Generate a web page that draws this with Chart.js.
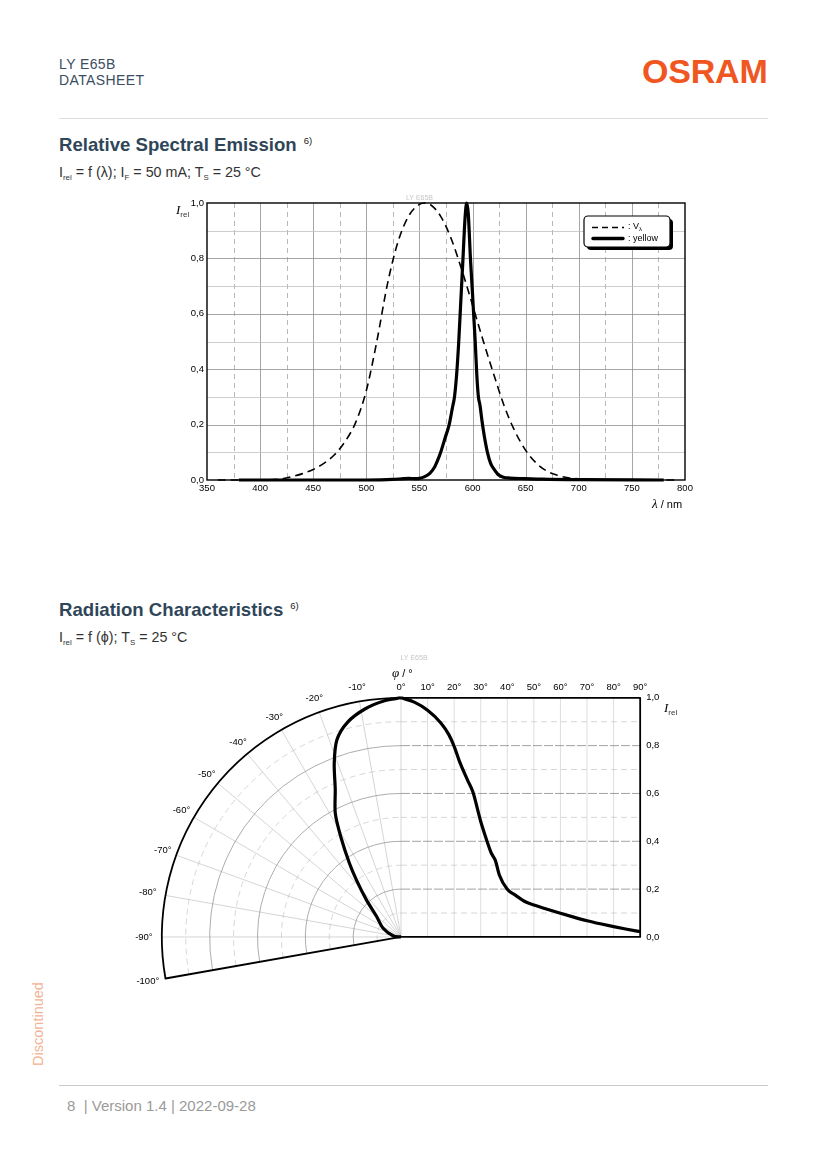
<!DOCTYPE html>
<html>
<head>
<meta charset="utf-8">
<script src="https://cdn.jsdelivr.net/npm/chart.js@4.4.0/dist/chart.umd.min.js"></script>
<style>
  body { margin: 0; background: #fff; font-family: "Liberation Sans", Arial, sans-serif; }
  #page { position: relative; width: 827px; height: 1170px; overflow: hidden; background: #fff; }
  .abs { position: absolute; white-space: nowrap; line-height: 1; }
  .hdr { color: #3b4d5f; font-size: 14px; left: 59px; letter-spacing: 0.4px; }
  .logo { left: 642px; top: 54px; font-size: 34px; font-weight: bold; color: #f0561f; letter-spacing: -0.2px; }
  .rule { position: absolute; left: 59px; width: 709px; height: 1px; }
  .title { left: 59px; font-size: 18.6px; font-weight: bold; color: #2f4659; }
  .title sup { font-size: 9.5px; font-weight: normal; color: #222; vertical-align: 0.7em; margin-left: 7px; }
  .sub { left: 59px; font-size: 14.3px; color: #333; }
  .sub sub, .axt sub { font-size: 0.55em; vertical-align: -0.35em; color: #333; }
  .axt { font-size: 11px; color: #000; }
  .axt i { font-family: "Liberation Serif", serif; font-size: 13px; }
  canvas { position: absolute; }
</style>
</head>
<body>
<div id="page">
  <div class="abs hdr" style="top:57px">LY E65B</div>
  <div class="abs hdr" style="top:73px">DATASHEET</div>
  <div class="abs logo">OSRAM</div>
  <div class="rule" style="top:118px;background:#dedede"></div>

  <div class="abs title" style="top:136px">Relative Spectral Emission<sup>6)</sup></div>
  <div class="abs sub" style="top:165px">I<sub>rel</sub> = f (λ); I<sub>F</sub> = 50 mA; T<sub>S</sub> = 25 °C</div>

  <canvas id="spectrum" width="540" height="330" style="left:160px;top:185px"></canvas>
  <div class="abs axt" style="left:176px;top:203px"><i>I</i><sub style="font-size:8px">rel</sub></div>
  <div class="abs axt" style="left:652px;top:497px"><i>λ</i> / nm</div>

  <div class="abs title" style="top:601px">Radiation Characteristics<sup>6)</sup></div>
  <div class="abs sub" style="top:630px">I<sub>rel</sub> = f (ϕ); T<sub>S</sub> = 25 °C</div>

  <canvas id="radiation" width="574" height="370" style="left:114px;top:638px"></canvas>
  <div class="abs axt" style="left:392px;top:666px"><i>φ</i> / °</div>
  <div class="abs axt" style="left:664px;top:701px"><i>I</i><sub style="font-size:8px">rel</sub></div>

  <div class="abs" style="left:38px;top:1024px;transform:translate(-50%,-50%) rotate(-90deg);font-size:14.5px;color:#f2b396">Discontinued</div>
  <div class="rule" style="top:1085px;background:#c9c9c9"></div>
  <div class="abs" style="left:67px;top:1098px;font-size:15px;color:#9a9a9a">8&nbsp; | Version 1.4 | 2022-09-28</div>
</div>

<script>
// Relative spectral emission: eye sensitivity V(lambda) and the yellow LED
const vLambdaWl = [360, 380, 400, 420, 430, 440, 450, 460, 470, 480, 490, 500, 510, 520, 530, 540, 550, 555, 560, 570, 580, 590, 600, 610, 620, 630, 640, 650, 660, 670, 680, 690, 700, 720, 750, 790];
const vLambdaVal = [0, 0.0001, 0.0004, 0.004, 0.012, 0.023, 0.038, 0.06, 0.091, 0.139, 0.208, 0.323, 0.503, 0.71, 0.862, 0.954, 0.995, 1.0, 0.995, 0.952, 0.87, 0.757, 0.631, 0.503, 0.381, 0.265, 0.175, 0.107, 0.061, 0.032, 0.017, 0.008, 0.004, 0.001, 0, 0];

const yellowWl = [380, 450, 500, 525, 535, 540, 545, 550, 555, 560, 564, 567, 570, 574, 578, 581, 583, 585, 587, 589, 591, 593, 594.5, 596, 598, 600, 601, 602.5, 604, 605.5, 607, 609, 611, 614, 617, 620, 624, 629, 635, 650, 665, 700, 780];
const yellowVal = [0, 0, 0, 0.002, 0.005, 0.006, 0.005, 0.006, 0.012, 0.025, 0.045, 0.07, 0.1, 0.15, 0.2, 0.26, 0.3, 0.38, 0.5, 0.65, 0.8, 0.95, 1.0, 0.96, 0.8, 0.67, 0.6, 0.5, 0.38, 0.3, 0.27, 0.21, 0.16, 0.1, 0.06, 0.04, 0.02, 0.01, 0.007, 0.005, 0.003, 0.001, 0];

const wlTicks = [350, 400, 450, 500, 550, 600, 650, 700, 750, 800];
const irelTicks = [0, 0.2, 0.4, 0.6, 0.8, 1.0];

// Radiation characteristic: right half (cartesian) and left half (polar)
const angleDeg = [0, 5, 10, 15, 18, 20, 22, 25, 27, 30, 32, 34, 35.5, 37, 40, 43, 47, 50, 55, 60, 65, 70, 75, 80, 85, 90];
const irelAngle = [1.0, 0.982, 0.948, 0.895, 0.846, 0.797, 0.734, 0.657, 0.608, 0.483, 0.413, 0.35, 0.32, 0.259, 0.199, 0.175, 0.146, 0.134, 0.116, 0.099, 0.083, 0.068, 0.055, 0.043, 0.032, 0.022];

const leftAngleDeg = [0, -4, -9, -14, -18, -21, -24, -28, -31, -35, -38, -43, -50, -64, -83, -90];
const leftIrel = [1.0, 0.99, 0.965, 0.925, 0.867, 0.779, 0.676, 0.585, 0.489, 0.376, 0.303, 0.212, 0.133, 0.083, 0.032, 0];

const polarAngleLabels = [-10, -20, -30, -40, -50, -60, -70, -80, -90, -100];
const topAngleLabels = [0, 10, 20, 30, 40, 50, 60, 70, 80, 90];
const ringValues = [0.1, 0.2, 0.3, 0.4, 0.5, 0.6, 0.7, 0.8, 0.9];

const fmt = v => v.toFixed(1).replace('.', ',');
const sans = '"Liberation Sans", Arial, sans-serif';

// Spectrum grid, frame and legend
const spectrumDecor = {
  id: 'spectrumDecor',
  beforeDatasetsDraw(chart) {
    const { ctx, chartArea: a, scales: { x, y } } = chart;
    ctx.save();
    ctx.lineWidth = 0.8;
    for (let w = 375; w < 800; w += 25) {
      const px = Math.round(x.getPixelForValue(w)) + 0.5;
      const major = w % 50 === 0;
      ctx.strokeStyle = major ? '#8f8f8f' : '#a6a6a6';
      ctx.setLineDash(major ? [] : [5, 4]);
      ctx.beginPath(); ctx.moveTo(px, a.top); ctx.lineTo(px, a.bottom); ctx.stroke();
    }
    ctx.setLineDash([]);
    for (let i = 1; i < 10; i++) {
      const py = Math.round(y.getPixelForValue(i / 10)) + 0.5;
      ctx.strokeStyle = i % 2 === 0 ? '#8f8f8f' : '#c2c2c2';
      ctx.beginPath(); ctx.moveTo(a.left, py); ctx.lineTo(a.right, py); ctx.stroke();
    }
    ctx.strokeStyle = '#000';
    ctx.lineWidth = 1.4;
    ctx.strokeRect(a.left, a.top, a.right - a.left, a.bottom - a.top);
    ctx.fillStyle = '#c6c6c6';
    ctx.font = '7px ' + sans;
    ctx.textAlign = 'center';
    ctx.textBaseline = 'bottom';
    ctx.fillText('LY E65B', x.getPixelForValue(550), a.top - 1);
    ctx.restore();
  },
  afterDatasetsDraw(chart) {
    const { ctx, chartArea: a } = chart;
    const bw = 86, bh = 31;
    const bx = a.right - 15 - bw, by = a.top + 13;
    const rr = (x0, y0) => {
      ctx.beginPath();
      ctx.roundRect(x0, y0, bw, bh, 4);
    };
    ctx.save();
    ctx.fillStyle = '#000';
    rr(bx + 3, by + 3); ctx.fill();
    ctx.fillStyle = '#fff';
    ctx.strokeStyle = '#000';
    ctx.lineWidth = 1.2;
    rr(bx, by); ctx.fill(); ctx.stroke();
    ctx.lineWidth = 1.7;
    ctx.setLineDash([6, 4]);
    ctx.beginPath(); ctx.moveTo(bx + 8, by + 11.5); ctx.lineTo(bx + 40, by + 11.5); ctx.stroke();
    ctx.setLineDash([]);
    ctx.lineWidth = 3.4;
    ctx.lineCap = 'round';
    ctx.beginPath(); ctx.moveTo(bx + 9, by + 22.5); ctx.lineTo(bx + 39, by + 22.5); ctx.stroke();
    ctx.fillStyle = '#000';
    ctx.font = '9px ' + sans;
    ctx.textBaseline = 'middle';
    ctx.fillText(': V', bx + 44, by + 11);
    const w = ctx.measureText(': V').width;
    ctx.font = '6px ' + sans;
    ctx.fillText('λ', bx + 44 + w, by + 13.5);
    ctx.font = '9px ' + sans;
    ctx.fillText(': yellow', bx + 44, by + 22.5);
    ctx.restore();
  }
};

new Chart(document.getElementById('spectrum'), {
  type: 'line',
  data: {
    datasets: [
      {
        label: 'V_λ',
        data: vLambdaWl.map((w, i) => ({ x: w, y: vLambdaVal[i] })),
        borderColor: '#000',
        borderWidth: 1.6,
        borderDash: [8, 5],
        pointRadius: 0,
        cubicInterpolationMode: 'monotone',
        clip: 4
      },
      {
        label: 'yellow',
        data: yellowWl.map((w, i) => ({ x: w, y: yellowVal[i] })),
        borderColor: '#000',
        borderWidth: 3.2,
        pointRadius: 0,
        cubicInterpolationMode: 'monotone',
        clip: 4
      }
    ]
  },
  options: {
    responsive: false,
    animation: false,
    layout: { padding: { left: 17, right: 15, top: 18, bottom: 17 } },
    plugins: { legend: { display: false }, tooltip: { enabled: false } },
    scales: {
      x: {
        type: 'linear', min: 350, max: 800,
        afterBuildTicks: s => { s.ticks = wlTicks.map(v => ({ value: v })); },
        afterFit: s => { s.height = 18; },
        ticks: { font: { size: 9.5, family: sans }, color: '#000', padding: 3, maxRotation: 0, callback: v => v },
        grid: { display: false, drawTicks: false },
        border: { display: false }
      },
      y: {
        min: 0, max: 1,
        afterBuildTicks: s => { s.ticks = irelTicks.map(v => ({ value: v })); },
        afterFit: s => { s.width = 30; },
        ticks: { font: { size: 9.5, family: sans }, color: '#000', padding: 3, callback: v => fmt(v) },
        grid: { display: false, drawTicks: false },
        border: { display: false }
      }
    }
  },
  plugins: [spectrumDecor]
});

// Radiation diagram grid and labels
const rad = d => (d - 90) * Math.PI / 180;
const radiationDecor = {
  id: 'radiationDecor',
  beforeDatasetsDraw(chart) {
    const { ctx, scales: { x, y } } = chart;
    const cx = x.getPixelForValue(0), cy = y.getPixelForValue(0);
    const R = x.getPixelForValue(1) - cx;
    const right = x.getPixelForValue(1);
    const top = y.getPixelForValue(1);
    ctx.save();
    ctx.lineWidth = 0.6;
    ctx.strokeStyle = '#b8b8b8';
    for (let d = 0; d >= -90; d -= 10) {
      ctx.beginPath(); ctx.moveTo(cx, cy);
      ctx.lineTo(cx + R * Math.cos(rad(d)), cy + R * Math.sin(rad(d))); ctx.stroke();
    }
    ctx.strokeStyle = '#c8c8c8';
    for (let d = 10; d < 90; d += 10) {
      const px = x.getPixelForValue(d / 90);
      ctx.beginPath(); ctx.moveTo(px, cy); ctx.lineTo(px, top); ctx.stroke();
    }
    ringValues.forEach((r, i) => {
      const major = i % 2 === 1;
      ctx.lineWidth = major ? 0.7 : 0.6;
      ctx.strokeStyle = major ? '#8a8a8a' : '#bcbcbc';
      ctx.setLineDash(major ? [] : [6, 4]);
      ctx.beginPath(); ctx.arc(cx, cy, r * R, rad(-100), rad(0)); ctx.stroke();
      ctx.strokeStyle = major ? '#7a7a7a' : '#bcbcbc';
      ctx.setLineDash(major ? [9, 2] : [6, 4]);
      const py = y.getPixelForValue(r);
      ctx.beginPath(); ctx.moveTo(cx, py); ctx.lineTo(right, py); ctx.stroke();
    });
    ctx.setLineDash([]);
    ctx.strokeStyle = '#000';
    ctx.lineWidth = 1.8;
    ctx.lineJoin = 'round';
    ctx.beginPath();
    ctx.moveTo(cx, cy);
    ctx.lineTo(cx + R * Math.cos(rad(-100)), cy + R * Math.sin(rad(-100)));
    ctx.arc(cx, cy, R, rad(-100), rad(0));
    ctx.lineTo(right, top);
    ctx.lineTo(right, cy);
    ctx.lineTo(cx, cy);
    ctx.stroke();
    ctx.restore();
  },
  afterDraw(chart) {
    const { ctx, scales: { x, y } } = chart;
    const cx = x.getPixelForValue(0), cy = y.getPixelForValue(0);
    const R = x.getPixelForValue(1) - cx;
    const right = x.getPixelForValue(1);
    const top = y.getPixelForValue(1);
    ctx.save();
    ctx.fillStyle = '#000';
    ctx.font = '9.5px ' + sans;
    ctx.textAlign = 'center';
    ctx.textBaseline = 'middle';
    polarAngleLabels.forEach(d => {
      const lr = R * (d <= -80 ? 1.075 : 1.06);
      ctx.fillText(d + '°', cx + lr * Math.cos(rad(d)), cy + lr * Math.sin(rad(d)));
    });
    topAngleLabels.forEach(d => {
      ctx.fillText(d + '°', x.getPixelForValue(d / 90), top - 10);
    });
    ctx.textAlign = 'left';
    irelTicks.forEach(v => {
      ctx.fillText(fmt(v), right + 6, y.getPixelForValue(v));
    });
    ctx.fillStyle = '#c6c6c6';
    ctx.font = '7px ' + sans;
    ctx.textAlign = 'center';
    ctx.fillText('LY E65B', cx + 13, top - 40);
    ctx.restore();
  }
};

new Chart(document.getElementById('radiation'), {
  type: 'scatter',
  data: {
    datasets: [
      {
        label: 'right',
        data: angleDeg.map((d, i) => ({ x: d / 90, y: irelAngle[i] })),
        showLine: true, borderColor: '#000', borderWidth: 3.2, pointRadius: 0,
        cubicInterpolationMode: 'monotone', clip: false
      },
      {
        label: 'left',
        data: leftAngleDeg.map((d, i) => ({
          x: leftIrel[i] * Math.sin(d * Math.PI / 180),
          y: leftIrel[i] * Math.cos(d * Math.PI / 180)
        })),
        showLine: true, borderColor: '#000', borderWidth: 3.2, pointRadius: 0, tension: 0.3, clip: false
      }
    ]
  },
  options: {
    responsive: false,
    animation: false,
    layout: { padding: 0 },
    plugins: { legend: { display: false }, tooltip: { enabled: false } },
    scales: {
      x: { type: 'linear', display: false, min: -1.2, max: 1.2 },
      y: { type: 'linear', display: false, min: -0.29704, max: 1.25 }
    }
  },
  plugins: [radiationDecor]
});
</script>
</body>
</html>
